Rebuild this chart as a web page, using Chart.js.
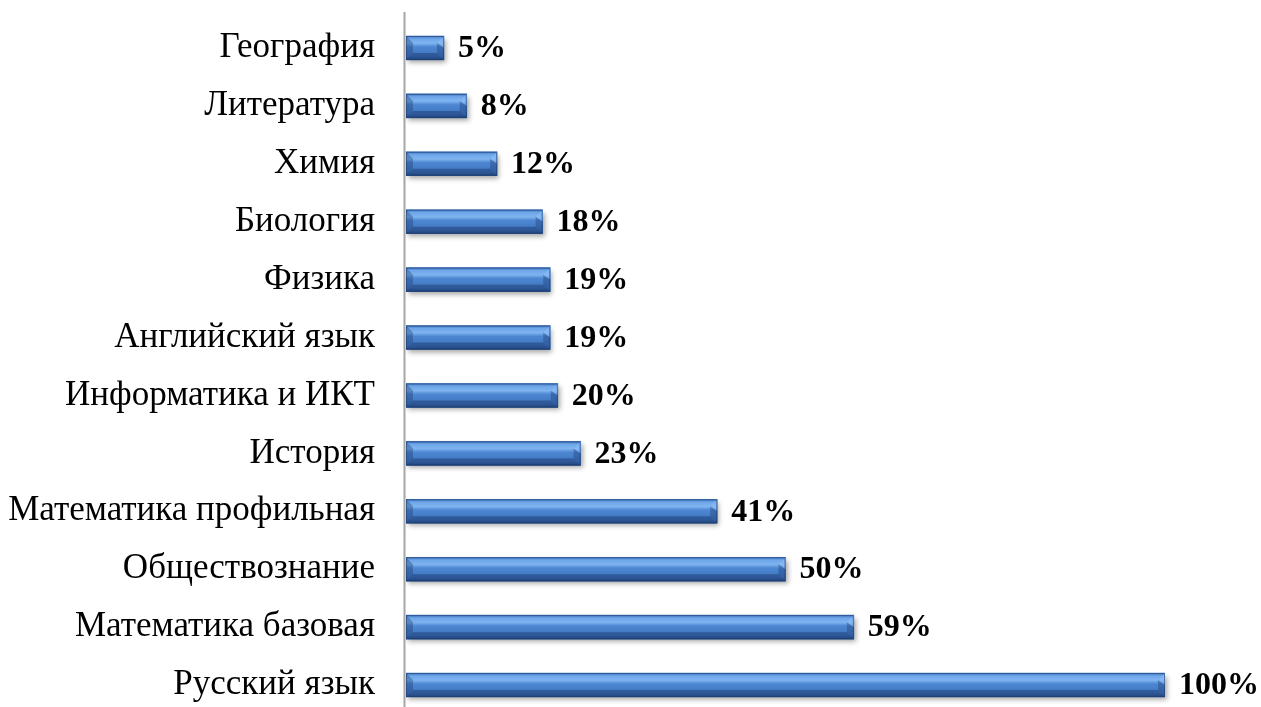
<!DOCTYPE html>
<html>
<head>
<meta charset="utf-8">
<script src="https://cdn.jsdelivr.net/npm/chart.js@4"></script>
<style>
  html, body { margin: 0; padding: 0; background: #fff; overflow: hidden; }
  #wrap { width: 1261px; height: 714px; }
</style>
</head>
<body>
<div id="wrap"><canvas id="subjects"></canvas></div>
<script>
  const subjects = [
    "География", "Литература", "Химия", "Биология", "Физика", "Английский язык",
    "Информатика и ИКТ", "История", "Математика профильная", "Обществознание",
    "Математика базовая", "Русский язык"
  ];
  const shares = [5, 8, 12, 18, 19, 19, 20, 23, 41, 50, 59, 100];

  /* bevelled bars + value labels + left axis line */
  const bevelBars = {
    id: "bevelBars",
    afterDatasetsDraw(chart) {
      const ctx = chart.ctx;
      const meta = chart.getDatasetMeta(0);
      ctx.save();
      meta.data.forEach((bar, i) => {
        const p = bar.getProps(["x", "y", "base", "height"], true);
        const left = p.base, right = p.x, top = p.y - p.height / 2, h = p.height;
        const w = right - left;

        // shadow + body
        ctx.save();
        ctx.shadowColor = "rgba(0,0,0,0.35)";
        ctx.shadowBlur = 5;
        ctx.shadowOffsetX = 2;
        ctx.shadowOffsetY = 3;
        const g = ctx.createLinearGradient(0, top, 0, top + h);
        g.addColorStop(0, "#3f74bd");
        g.addColorStop(0.12, "#6ea6ea");
        g.addColorStop(0.3, "#7fb4f0");
        g.addColorStop(0.45, "#4d87d2");
        g.addColorStop(0.85, "#3f74bd");
        g.addColorStop(1, "#2b548f");
        ctx.fillStyle = g;
        ctx.fillRect(left, top, w, h);
        ctx.restore();

        // bevel facets
        const b = Math.min(7, w / 3);
        ctx.fillStyle = "rgba(25,55,105,0.35)";
        ctx.beginPath();
        ctx.moveTo(left, top); ctx.lineTo(left + b, top + b);
        ctx.lineTo(left + b, top + h - b); ctx.lineTo(left, top + h);
        ctx.closePath(); ctx.fill();
        ctx.fillStyle = "rgba(20,45,95,0.4)";
        ctx.beginPath();
        ctx.moveTo(left, top + h); ctx.lineTo(right, top + h);
        ctx.lineTo(right - b, top + h - b); ctx.lineTo(left + b, top + h - b);
        ctx.closePath(); ctx.fill();
        ctx.fillStyle = "rgba(140,190,245,0.55)";
        ctx.beginPath();
        ctx.moveTo(right, top); ctx.lineTo(right, top + h / 2);
        ctx.lineTo(right - b, top + b);
        ctx.closePath(); ctx.fill();
        ctx.fillStyle = "rgba(25,55,110,0.35)";
        ctx.beginPath();
        ctx.moveTo(right, top + h / 2); ctx.lineTo(right, top + h);
        ctx.lineTo(right - b, top + h - b); ctx.lineTo(right - b, top + b);
        ctx.closePath(); ctx.fill();
        ctx.strokeStyle = "rgba(30,60,110,0.55)";
        ctx.lineWidth = 1;
        ctx.strokeRect(left + 0.5, top + 0.5, w - 1, h - 1);

        // value label
        ctx.fillStyle = "#000";
        ctx.font = "bold 32px 'Liberation Serif', 'Times New Roman', serif";
        ctx.textBaseline = "middle";
        ctx.textAlign = "left";
        ctx.fillText(shares[i] + "%", right + 14, p.y + 1);
      });

      // axis line
      const x = chart.chartArea.left - 1.5;
      ctx.strokeStyle = "#a6a6a6";
      ctx.lineWidth = 2;
      ctx.beginPath();
      ctx.moveTo(x, 12);
      ctx.lineTo(x, chart.height);
      ctx.stroke();
      ctx.restore();
    }
  };

  new Chart(document.getElementById("subjects"), {
    type: "bar",
    data: {
      labels: subjects,
      datasets: [{
        data: shares,
        backgroundColor: "#4a86d0",
        barThickness: 24
      }]
    },
    options: {
      indexAxis: "y",
      responsive: true,
      maintainAspectRatio: false,
      animation: false,
      layout: { padding: { top: 19, right: 96, bottom: 0, left: 0 } },
      plugins: { legend: { display: false }, tooltip: { enabled: false } },
      scales: {
        x: { display: false, min: 0, max: 100 },
        y: {
          grid: { display: false, drawTicks: false },
          border: { display: false },
          afterFit(scale) {
            scale.width = 406;
            scale.paddingTop = 0;
            scale.paddingBottom = 0;
          },
          ticks: {
            color: "#000",
            padding: 31,
            font: { family: "'Liberation Serif', 'Times New Roman', serif", size: 35 }
          }
        }
      }
    },
    plugins: [bevelBars]
  });
</script>
</body>
</html>
